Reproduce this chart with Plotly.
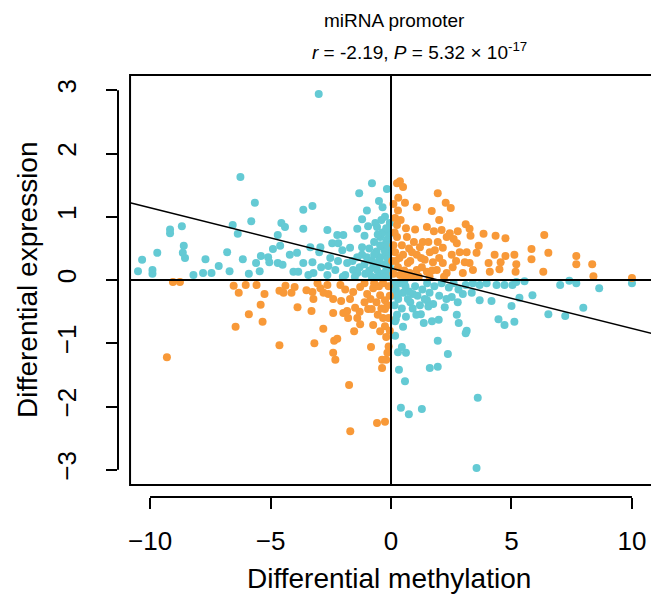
import plotly.graph_objects as go

# ---------------- data ----------------
# discordant points (teal)
teal_x = [-3.0, -6.25, -5.65, -5.8, -3.64, -3.26, -1.32, -0.79, -0.17, -0.5, -1.2, -1.4, -2.64, -3.64, -4.55, -4.4, -4.7,
          -6.57, -6.36, -8.68, -9.17, -9.17, -8.6, -8.64, -8.55, -9.7, -10.33, -10.5, -9.9, -9.9, -8.2, -7.8, -7.45,
          -7.7, -7.15, -6.8, -6.7, -6.15, -5.9, -5.6, -5.45, -5.4, -5.1, -5.05, -4.9, -4.7, -4.5, -4.6, -4.2, -3.9,
          -4.05, -3.85, -3.64, -3.26, -3.35, -2.98, -2.93, -3.22, -2.9, -2.52, -2.44, -2.23, -1.98, -2.19, -2.02,
          -1.7, -1.4, -1.82, -2.31, -1.57, -1.2, -1.0, -0.74, -0.58, -0.45, -0.25, -0.17, -0.33, -0.45, -0.17, -0.58,
          -0.25, -1.07, -1.4, -1.9, -2.64, -3.43,
          -0.1, -0.2, -0.3, -0.1, -0.4, -0.5, -0.6, -0.8, -0.9, -0.7, -0.2, -0.1, -0.35, -0.05, -0.9, -1.1, -1.3,
          -1.6, -1.5, -1.1, -0.8, -0.55, -0.25, -0.05, -0.15, -0.65, -1.0, -0.35, -2.2, -2.6, -2.0, -1.2, -0.45,
          -0.08, -0.12, -0.3, -0.6, -0.95, -0.55, -0.2, -0.4, -0.7, -0.15,
          3.55, 3.6, 0.41, 0.74, 1.28, 0.58, 0.33, 1.61, 1.94, 2.36, 1.94, 0.62, 0.29, 0.45, 0.17, 0.17, 0.5, 0.62,
          1.24, 1.36, 1.7, 1.98, 2.73, 2.81, 3.14, 3.1, 4.46, 4.71, 5.12, 5.0, 5.33, 5.87, 6.53, 7.23, 7.98, 7.02,
          7.4, 7.69, 8.64, 10.0, 4.17, 3.68, 3.35, 2.98, 2.77, 2.23, 2.52, 1.49, 0.91, 4.38, 4.71, 5.04, 5.2, 5.54,
          3.97, 3.68,
          0.1, 0.2, 0.35, 0.5, 0.3, 0.15, 0.6, 0.8, 1.0, 1.1, 1.3, 1.5, 1.6, 1.8, 2.0, 2.1, 2.4, 2.6, 2.8, 3.1,
          0.45, 0.9, 1.2, 1.75, 0.05, 0.25, 0.7, 1.4, 2.3, 0.1, 3.4, 0.55, 1.05, 0.3, 0.75, 1.55, 0.2]
teal_y = [2.94, 1.63, 1.22, 0.93, 1.11, 1.17, 1.37, 1.53, 1.44, 1.25, 0.96, 0.81, 0.79, 0.81, 0.9, 0.84, 0.71,
          0.87, 0.73, 0.85, 0.8, 0.74, 0.54, 0.43, 0.35, 0.43, 0.32, 0.14, 0.16, 0.1, 0.08, 0.11, 0.11,
          0.33, 0.22, 0.44, 0.14, 0.33, 0.1, 0.27, 0.14, 0.38, 0.36, 0.28, 0.49, 0.27, 0.24, 0.54, 0.4, 0.43,
          0.13, 0.13, 0.27, 0.28, 0.52, 0.44, 0.52, 0.11, 0.2, 0.35, 0.58, 0.71, 0.71, 0.58, 0.47,
          0.51, 0.36, 0.27, 0.16, 0.16, 0.52, 0.36, 0.2, 0.84, 0.68, 1.0, 0.79, 0.52, 0.36, 0.36, 0.16,
          0.11, 0.1, 0.11, 0.08, 0.08, 0.08,
          0.05, 0.15, 0.25, 0.3, 0.1, 0.3, 0.45, 0.3, 0.15, 0.6, 0.6, 0.45, 0.75, 0.9, 0.5, 0.25, 0.2,
          0.3, 0.05, 0.7, 0.05, 0.05, 0.45, 0.2, 0.65, 0.9, 1.1, 1.15, 0.3, 0.22, 0.05, 0.4, 0.55,
          0.72, 0.12, 0.04, 0.22, 0.85, 0.72, 0.82, 0.95, 0.4, 0.55,
          -2.97, -1.86, -2.02, -2.12, -2.04, -1.6, -1.42, -1.39, -1.37, -1.17, -0.96, -1.15, -1.14, -1.06, -0.88,
          -0.65, -0.74, -0.58, -0.54, -0.68, -0.65, -0.63, -0.55, -0.68, -0.8, -0.84, -0.62, -0.71, -0.66, -0.41,
          -0.28, -0.24, -0.54, -0.57, -0.44, -0.08, -0.01, -0.05, -0.13, -0.05, -0.33, -0.32, -0.2, -0.22, -0.35,
          -0.43, -0.27, -0.32, -0.22, -0.08, -0.08, -0.08, -0.03, -0.02, -0.05, -0.08,
          -0.05, -0.15, -0.05, -0.2, -0.3, -0.4, -0.1, -0.35, -0.1, -0.25, -0.15, -0.05, -0.2, -0.1, -0.25, -0.05,
          -0.12, -0.05, -0.15, -0.08, -0.45, -0.45, -0.4, -0.38, -0.25, -0.55, -0.3, -0.3, -0.3, -0.12, -0.05,
          -0.02, -0.55, -0.22, -0.18, -0.42, -0.62]

# concordant points (orange)
orange_x = [0.25, 0.37, 0.5, 1.94, 0.58, 1.07, 2.27, 2.48, 1.69, 0.29, 0.17, 0.25, 0.62, 1.49, 1.78, 2.1, 2.44,
            2.77, 3.1, 3.26, 3.3, 3.84, 4.34, 4.75, 6.36, 5.83, 6.53, 5.83, 7.69, 7.69, 8.35, 8.4, 10.0, 6.32, 5.17,
            5.2, 5.12, 4.75, 4.3, 4.55, 4.5, 4.05, 4.1, 3.64, 3.55, 3.26, 3.4, 2.98, 3.06, 2.73, 2.6, 2.31, 2.15,
            2.52, 1.94, 1.82, 1.61, 1.32, 1.2, 1.07, 1.4, 1.74, 2.15, 2.56, 2.31, 1.9, 1.49, 1.07, 0.7, 0.5, 0.45,
            0.25, 0.66, 0.87, 0.29, 0.37, 0.78, 1.28, 0.17, 1.6, 2.85, 3.14,
            0.1, 0.2, 0.1, 0.35, 0.55, 0.8, 0.95, 1.15, 1.25, 1.55, 1.7, 2.0, 2.2, 0.4, 0.15, 0.05, 0.6, 0.9, 2.7,
            0.1, 0.75, 1.0, 0.3, 2.0,
            -9.3, -9.05, -8.76, -6.53, -6.32, -6.03, -6.45, -5.9, -5.41, -5.33, -5.25, -5.58, -4.63, -4.63, -4.38,
            -4.46, -4.13, -4.0, -3.88, -3.51, -3.26, -3.22, -3.3, -3.18, -2.81, -2.93, -2.6, -2.8, -2.4, -2.36,
            -2.23, -2.4, -2.31, -2.07, -1.98, -1.82, -1.78, -1.49, -1.4, -1.28, -1.53, -1.74, -1.69, -0.83, -0.74,
            -0.95, -0.8, -0.45, -0.25, -0.33, -0.25, -0.37, -0.2, -0.37, -0.58, -0.25, -1.57, -1.28, -0.99, -0.74,
            -0.45, -0.25, -0.33, -2.1, -2.64, -3.05,
            -0.1, -0.15, -0.5, -0.6, -0.1, -0.2, -0.1, -0.55, -1.1, -1.3, -1.7, -1.9, -1.1, -0.85, -0.05, -0.4,
            -2.4, -0.15, -0.7, -0.05]
orange_y = [1.53, 1.56, 1.47, 1.37, 1.22, 1.15, 1.22, 1.14, 1.09, 1.1, 0.98, 0.87, 0.82, 0.84, 0.77, 0.79, 0.74,
            0.77, 0.88, 0.81, 0.7, 0.73, 0.7, 0.66, 0.71, 0.49, 0.43, 0.33, 0.38, 0.25, 0.25, 0.06, 0.03, 0.13, 0.13,
            0.25, 0.4, 0.38, 0.4, 0.28, 0.17, 0.27, 0.13, 0.54, 0.43, 0.27, 0.16, 0.11, 0.28, 0.58, 0.65, 0.68, 0.51,
            0.4, 0.6, 0.47, 0.44, 0.6, 0.52, 0.4, 0.32, 0.28, 0.27, 0.2, 0.11, 0.16, 0.13, 0.16, 0.27, 0.4, 0.55,
            0.68, 0.68, 0.44, 0.2, 0.08, 0.11, 0.2, 0.44, 0.05, 0.44, 0.44,
            0.1, 0.3, 0.55, 0.35, 0.15, 0.3, 0.6, 0.05, 0.35, 0.6, 0.15, 0.35, 0.05, 0.95, 0.75, 0.3, 0.05, 0.05, 0.3,
            1.2, 0.5, 0.8, 1.3, 0.95,
            -1.22, -0.03, -0.03, -0.09, -0.2, -0.08, -0.74, -0.54, -0.39, -0.66, -0.22, -0.08, -1.03, -0.17, -0.09,
            -0.2, -0.2, -0.11, -0.43, -0.16, -0.19, -0.3, -0.49, -1.0, -0.77, -0.13, -0.22, -0.2, -0.52, -0.96,
            -0.93, -1.15, -1.26, -0.33, -0.52, -0.49, -0.6, -0.44, -0.6, -0.7, -0.81, -1.66, -2.39, -1.06, -0.71,
            -0.46, -0.46, -0.81, -0.73, -0.6, -0.46, -1.26, -1.26, -1.39, -2.26, -2.24, -0.19, -0.11, -0.22, -0.13,
            -0.24, -0.32, -0.05, -0.08, -0.08, -0.05,
            -0.1, -0.4, -0.1, -0.35, -0.6, -0.9, -1.05, -0.55, -0.35, -0.5, -0.3, -0.15, -0.05, -0.3, -0.25, -0.45,
            -0.3, -1.15, -0.05, -0.8]

# regression line (intercept, slope) and its extent
reg_intercept = 0.188
reg_slope = -0.0953
reg_x = [-10.83, 10.85]

x_ticks = [-10, -5, 0, 5, 10]
x_tick_text = ["\u221210", "\u22125", "0", "5", "10"]
y_ticks = [-3, -2, -1, 0, 1, 2, 3]
y_tick_text = ["\u22123", "\u22122", "\u22121", "0", "1", "2", "3"]

x_title = "Differential methylation"
y_title = "Differential expression"
main_title = "miRNA promoter"
stat_text = "<i>r</i> = -2.19, <i>P</i> = 5.32 \u00d7 10<sup>-17</sup>"

TEAL = "rgb(100,202,212)"
ORANGE = "rgb(248,153,56)"
FONT = "Liberation Sans, Arial, sans-serif"

# plotting box (R plot region) in data units
box_x = [-10.83, 10.85]
box_y = [-3.24, 3.24]

fig = go.Figure()
fig.add_trace(go.Scatter(x=teal_x, y=teal_y, mode="markers",
                         marker=dict(color=TEAL, size=8, line=dict(width=0)),
                         showlegend=False, hoverinfo="skip"))
fig.add_trace(go.Scatter(x=orange_x, y=orange_y, mode="markers",
                         marker=dict(color=ORANGE, size=8, line=dict(width=0)),
                         showlegend=False, hoverinfo="skip"))
fig.add_trace(go.Scatter(x=reg_x, y=[reg_intercept + reg_slope * v for v in reg_x], mode="lines",
                         line=dict(color="black", width=1.5), showlegend=False, hoverinfo="skip"))

shapes = [
    # box
    dict(type="rect", xref="x", yref="y", x0=box_x[0], x1=box_x[1], y0=box_y[0], y1=box_y[1],
         line=dict(color="black", width=2), layer="above"),
    # zero lines
    dict(type="line", xref="x", yref="y", x0=box_x[0], x1=box_x[1], y0=0, y1=0,
         line=dict(color="black", width=2), layer="above"),
    dict(type="line", xref="x", yref="y", x0=0, x1=0, y0=box_y[0], y1=box_y[1],
         line=dict(color="black", width=2), layer="above"),
    # R-style axis lines
    dict(type="line", xref="x", yref="paper", x0=x_ticks[0], x1=x_ticks[-1], y0=0, y1=0,
         line=dict(color="black", width=2)),
    dict(type="line", xref="paper", yref="y", x0=0, x1=0, y0=y_ticks[0], y1=y_ticks[-1],
         line=dict(color="black", width=2)),
]

annotations = [
    dict(text=x_title, xref="paper", yref="paper", x=(389 - 118) / 533, y=(497 - 578) / 427,
         xanchor="center", yanchor="middle", showarrow=False, font=dict(size=28, color="black", family=FONT)),
    dict(text=y_title, xref="paper", yref="y", x=(27 - 118) / 533, y=0, textangle=-90,
         xanchor="center", yanchor="middle", showarrow=False, font=dict(size=28, color="black", family=FONT)),
    dict(text=main_title, xref="paper", yref="paper", x=(394 - 118) / 533, y=(497 - 20) / 427,
         xanchor="center", yanchor="middle", showarrow=False, font=dict(size=19, color="black", family=FONT)),
    dict(text=stat_text, xref="paper", yref="paper", x=(419 - 118) / 533, y=(497 - 51) / 427,
         xanchor="center", yanchor="middle", showarrow=False, font=dict(size=19, color="black", family=FONT)),
]

fig.update_layout(
    width=651, height=601,
    margin=dict(l=118, r=0, t=70, b=104, pad=0),
    plot_bgcolor="white", paper_bgcolor="white",
    font=dict(family=FONT, color="black"),
    shapes=shapes, annotations=annotations,
    xaxis=dict(range=[-11.33, 10.79], showgrid=False, zeroline=False, showline=False,
               tickmode="array", tickvals=x_ticks, ticktext=x_tick_text,
               ticks="outside", ticklen=11, tickwidth=2, tickcolor="black",
               tickfont=dict(size=26, color="black", family=FONT), ticklabelstandoff=10),
    yaxis=dict(range=[-3.43, 3.32], showgrid=False, zeroline=False, showline=False,
               tickmode="array", tickvals=y_ticks, ticktext=y_tick_text,
               ticks="outside", ticklen=11, tickwidth=2, tickcolor="black", tickangle=-90,
               tickfont=dict(size=26, color="black", family=FONT), ticklabelstandoff=20),
)

fig.write_html("out.html")
